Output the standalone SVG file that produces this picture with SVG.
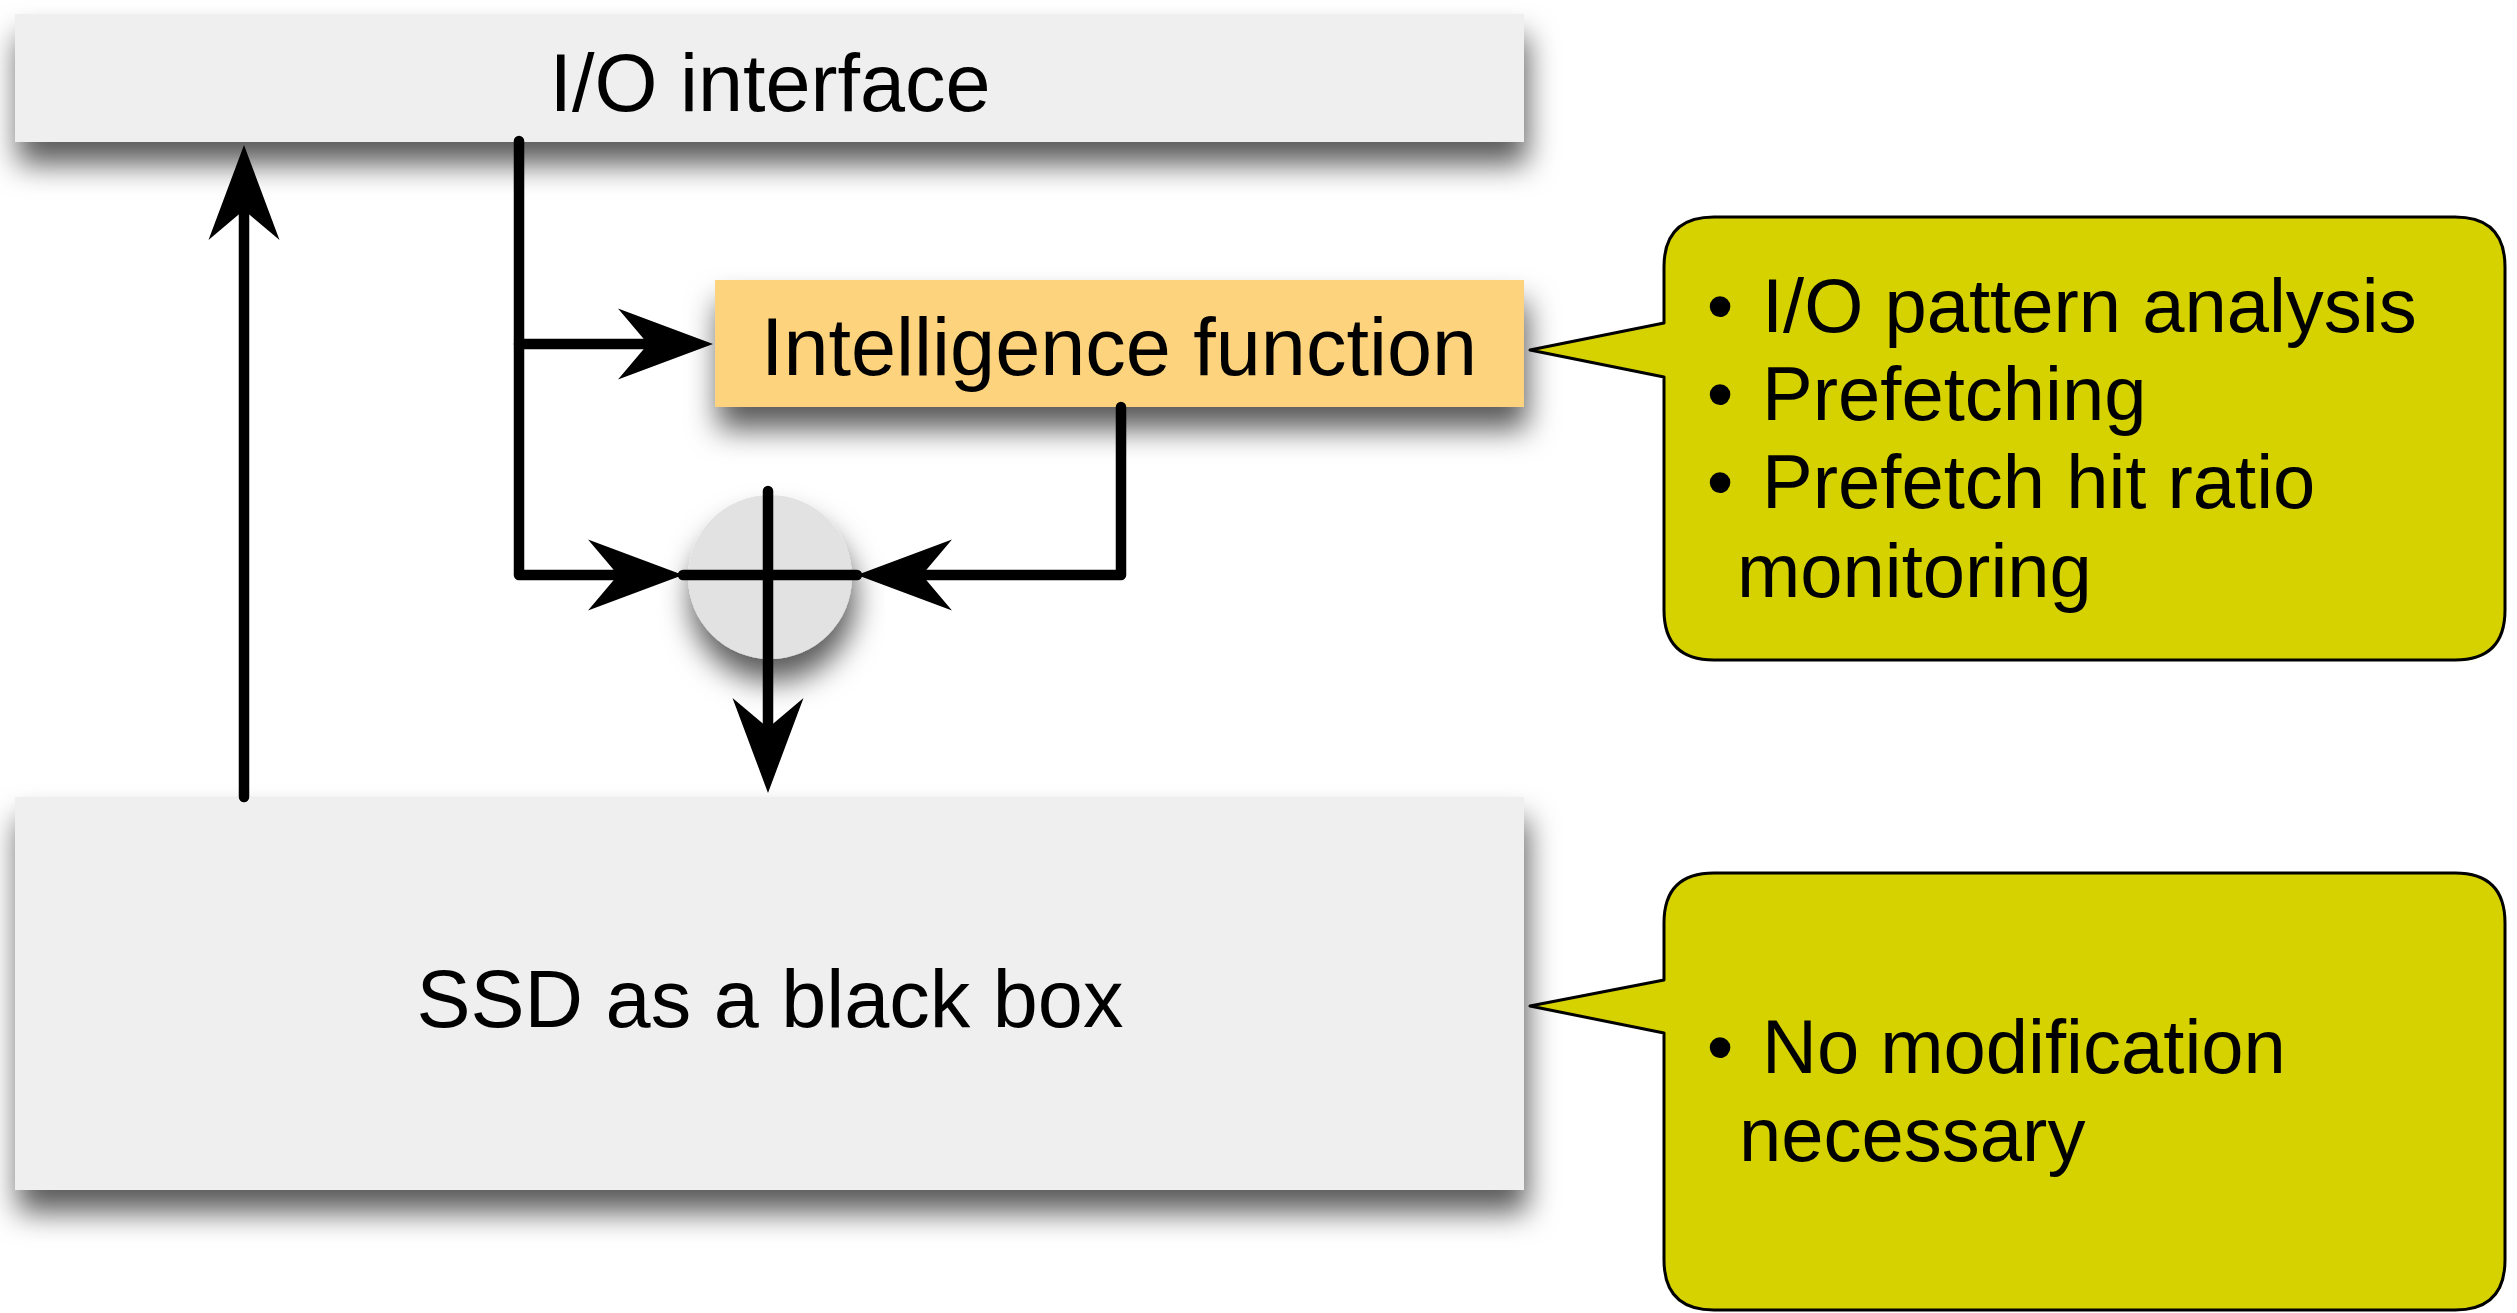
<svg xmlns="http://www.w3.org/2000/svg" width="2517" height="1313" viewBox="0 0 2517 1313">
  <style>
    .box { fill: #efefef; }
    .intel { fill: #fdd47d; }
    .sum { fill: #e2e2e2; }
    .callout { fill: #d6d200; stroke: #000; stroke-width: 3; stroke-linejoin: round; }
    .label { font-family: "Liberation Sans", Arial, Helvetica, sans-serif; font-size: 81px; fill: #000; text-anchor: middle; }
    .note { font-family: "Liberation Sans", Arial, Helvetica, sans-serif; font-size: 76px; fill: #000; }
    .wire { fill: none; stroke: #000; stroke-width: 10.5; stroke-linecap: round; stroke-linejoin: round; }
  </style>
  <defs>
    <filter id="shadow" x="-20%" y="-50%" width="140%" height="220%">
      <feDropShadow dx="3" dy="22" stdDeviation="15" flood-color="#000" flood-opacity="0.65"/>
    </filter>
    <marker id="arrow" viewBox="0 0 96 72" refX="31" refY="36" markerWidth="96" markerHeight="72" markerUnits="userSpaceOnUse" orient="auto">
      <path d="M96,36 L1,0.5 L31,36 L1,71.5 Z" fill="#000"/>
    </marker>
  </defs>
  <rect width="2517" height="1313" fill="#fff"/>

  <g id="io-interface">
    <rect class="box" x="15" y="14" width="1509" height="128" filter="url(#shadow)"/>
    <text class="label" x="770" y="111">I/O interface</text>
  </g>

  <g id="intelligence-function">
    <rect class="intel" x="715" y="280" width="809" height="127" filter="url(#shadow)"/>
    <text class="label" x="1119" y="375">Intelligence function</text>
  </g>

  <g id="combiner">
    <circle class="sum" cx="770" cy="577" r="82" filter="url(#shadow)"/>
  </g>

  <g id="ssd">
    <rect class="box" x="15" y="797" width="1509" height="393" filter="url(#shadow)"/>
    <text class="label" x="770" y="1027">SSD as a black box</text>
  </g>

  <g id="callout-intelligence">
    <path class="callout" d="M1714,217 L2455,217 Q2505,217 2505,267 L2505,610 Q2505,660 2455,660 L1714,660 Q1664,660 1664,610 L1664,377 L1530,350 L1664,323 L1664,267 Q1664,217 1714,217 Z"/>
    <text class="note">
      <tspan x="1720" y="332" text-anchor="middle">•</tspan><tspan x="1762" y="332">I/O pattern analysis</tspan>
      <tspan x="1720" y="420" text-anchor="middle">•</tspan><tspan x="1762" y="420">Prefetching</tspan>
      <tspan x="1720" y="508" text-anchor="middle">•</tspan><tspan x="1762" y="508">Prefetch hit ratio</tspan>
      <tspan x="1737" y="597">monitoring</tspan>
    </text>
  </g>

  <g id="callout-ssd">
    <path class="callout" d="M1714,873 L2455,873 Q2505,873 2505,923 L2505,1260 Q2505,1310 2455,1310 L1714,1310 Q1664,1310 1664,1260 L1664,1033 L1530,1006 L1664,980 L1664,923 Q1664,873 1714,873 Z"/>
    <text class="note">
      <tspan x="1720" y="1073" text-anchor="middle">•</tspan><tspan x="1762" y="1073">No modification</tspan>
      <tspan x="1739" y="1161">necessary</tspan>
    </text>
  </g>

  <g id="connectors">
    <path class="wire" d="M244,797 L244,210" marker-end="url(#arrow)"/>
    <path class="wire" d="M519,141 L519,575 L618,575" marker-end="url(#arrow)"/>
    <path class="wire" d="M519,344 L648,344" marker-end="url(#arrow)"/>
    <path class="wire" d="M1121,407 L1121,575 L922,575" marker-end="url(#arrow)"/>
    <path class="wire" d="M683,575 L857,575"/>
    <path class="wire" d="M768,491 L768,728" marker-end="url(#arrow)"/>
  </g>
</svg>
